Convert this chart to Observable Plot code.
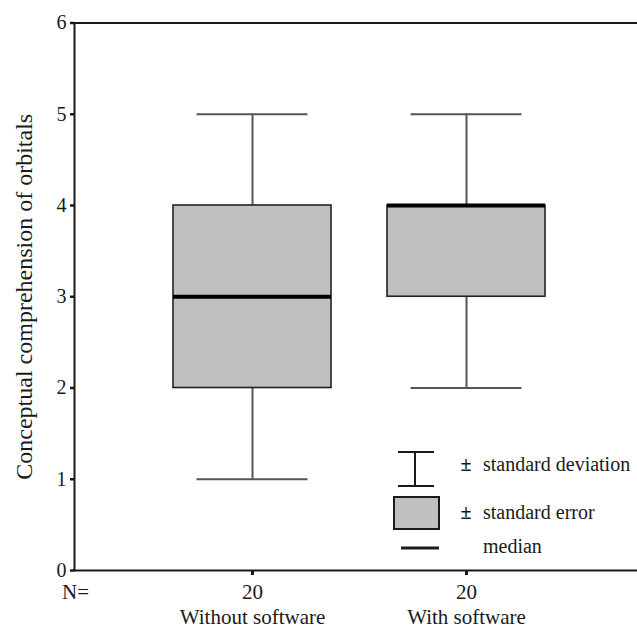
<!DOCTYPE html>
<html><head><meta charset="utf-8">
<script src="https://cdn.jsdelivr.net/npm/d3@7"></script>
<script src="https://cdn.jsdelivr.net/npm/@observablehq/plot@0.6"></script>
<style>
body{margin:0;background:#fff}
#chart{position:relative;width:637px;height:630px}
#chart svg{position:absolute;left:0;top:0}
</style>
</head><body><div id="chart"></div>
<script>
// ---- data ----
const groups = ["Without software", "With software"];
const nValues = [20, 20];
const whiskerLow = [1, 2];   // - standard deviation end
const boxLow = [2, 3];       // - standard error
const medians = [3, 4];
const boxHigh = [4, 4];      // + standard error
const whiskerHigh = [5, 5];  // + standard deviation end
const yTicks = [0, 1, 2, 3, 4, 5, 6];
const yLabel = "Conceptual comprehension of orbitals";
const nLabel = "N=";
const legendLabels = ["standard deviation", "standard error", "median"];

const rows = groups.map((g, i) => ({
  group: g, n: nValues[i], wl: whiskerLow[i], bl: boxLow[i],
  med: medians[i], bh: boxHigh[i], wh: whiskerHigh[i]
}));

const FONT = "Liberation Serif, Times New Roman, serif";
const INK = "#1a1a1a";
const WHISK = "#555";

const chart = Plot.plot({
  width: 637, height: 630,
  marginLeft: 74, marginRight: 0, marginTop: 22.5, marginBottom: 60,
  style: {fontFamily: FONT, fontSize: "20px", color: INK, background: "#fff"},
  x: {type: "band", domain: groups, range: [145, 573], paddingInner: 0.262, paddingOuter: 0.131},
  y: {domain: [0, 6]},
  marks: [
    // whiskers (± standard deviation)
    Plot.ruleX(rows, {x: "group", y1: "wl", y2: "bl", stroke: WHISK, strokeWidth: 2}),
    Plot.ruleX(rows, {x: "group", y1: "bh", y2: "wh", stroke: WHISK, strokeWidth: 2}),
    Plot.tickY(rows, {x: "group", y: "wl", insetLeft: 23.5, insetRight: 23.5, stroke: WHISK, strokeWidth: 2}),
    Plot.tickY(rows, {x: "group", y: "wh", insetLeft: 23.5, insetRight: 23.5, stroke: WHISK, strokeWidth: 2}),
    // boxes (± standard error) and medians
    Plot.barY(rows, {x: "group", y1: "bl", y2: "bh", fill: "#c0c0c0", stroke: "#222", strokeWidth: 1.6}),
    Plot.tickY(rows, {x: "group", y: "med", stroke: "#000", strokeWidth: 4}),
    // frame lines
    Plot.ruleY([0, 6], {stroke: INK, strokeWidth: 2}),
    Plot.frame({anchor: "left", stroke: INK, strokeWidth: 2}),
    // axes
    Plot.axisY({ticks: yTicks, tickFormat: "d", tickSize: 4, tickPadding: 4, strokeWidth: 2.5, label: null, fontSize: 20}),
    Plot.axisX({tickSize: 5, tickPadding: 9, strokeWidth: 3, label: null, fontSize: 21,
      tickFormat: (d) => String(rows.find(r => r.group === d).n)}),
    Plot.axisX({tickSize: 0, tickPadding: 39, label: null, fontSize: 21}),
    Plot.text([nLabel], {frameAnchor: "bottom-left", textAnchor: "middle", lineAnchor: "top", dx: 1, dy: 14, fontSize: 21}),
    Plot.text([yLabel], {frameAnchor: "left", rotate: -90, textAnchor: "middle", lineAnchor: "middle", dx: -50, fontSize: 24})
  ]
});
document.getElementById("chart").appendChild(chart);

// ---- legend overlay ----
const leg = d3.select("#chart").append("svg")
  .attr("width", 637).attr("height", 630)
  .style("pointer-events", "none")
  .style("font-family", FONT).style("font-size", "20px").attr("fill", INK);
// standard deviation symbol
leg.append("path").attr("d", "M398,452H434M415,452V486M398,486H434")
  .attr("stroke", INK).attr("stroke-width", 2).attr("fill", "none");
// standard error symbol
leg.append("rect").attr("x", 394).attr("y", 497).attr("width", 45).attr("height", 32)
  .attr("fill", "#c0c0c0").attr("stroke", INK).attr("stroke-width", 2);
// median symbol
leg.append("line").attr("x1", 401).attr("x2", 439).attr("y1", 548).attr("y2", 548)
  .attr("stroke", INK).attr("stroke-width", 3);
const ys = [465, 513, 547];
legendLabels.forEach((t, i) => {
  if (i < 2) leg.append("text").attr("x", 466).attr("y", ys[i]).attr("dy", "0.32em")
    .attr("text-anchor", "middle").attr("font-weight", "bold").text("±");
  leg.append("text").attr("x", 483).attr("y", ys[i]).attr("dy", "0.32em").text(t);
});
</script>
</body></html>
